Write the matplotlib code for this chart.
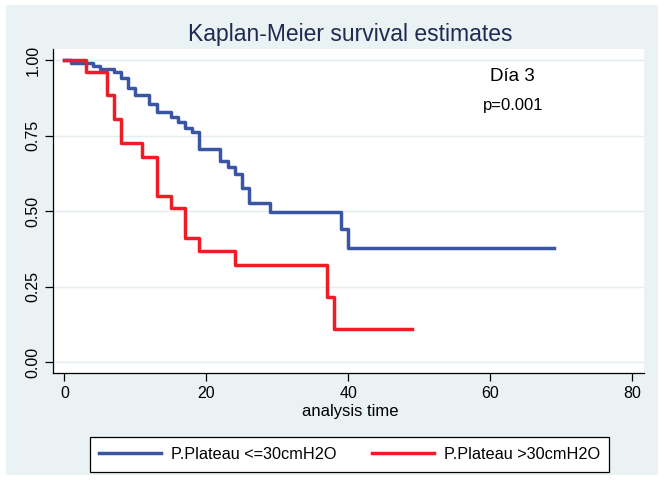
import numpy as np
import matplotlib as mlt
mlt.use('Agg')
from matplotlib import pyplot as plt
from matplotlib.patches import Rectangle

plt.rcParams['font.family'] = ['Liberation Sans', 'DejaVu Sans']

# Kaplan-Meier step curves (time, survival)
time_low = [0, 1, 4, 5, 7, 8, 9, 10, 12, 13, 15, 16, 17, 18, 19, 22, 23, 24, 25, 26, 29, 39, 40, 69]
surv_low = [1.0, 0.991, 0.981, 0.971, 0.96, 0.94, 0.908, 0.884, 0.855, 0.827, 0.812, 0.795, 0.777, 0.761,
            0.705, 0.665, 0.645, 0.624, 0.576, 0.527, 0.497, 0.441, 0.377, 0.377]

time_high = [0, 3, 6, 7, 8, 11, 13, 15, 17, 19, 24, 37, 38, 49]
surv_high = [1.0, 0.962, 0.885, 0.806, 0.727, 0.681, 0.551, 0.51, 0.413, 0.369, 0.321, 0.215, 0.109, 0.109]

label_low = "P.Plateau <=30cmH2O"
label_high = "P.Plateau >30cmH2O"

xticks = [0, 20, 40, 60, 80]
yticks = [0.0, 0.25, 0.5, 0.75, 1.0]

bg = '#EAF2F3'
blue = '#3A55A4'
red = '#EE1C25'

fig = plt.figure(figsize=(6.64, 4.8), dpi=100)
fig.patch.set_facecolor('white')
fig.patches.append(Rectangle((6/664, 5/480), 652/664, 470/480, transform=fig.transFigure,
                             facecolor=bg, edgecolor='none', zorder=-10))

ax = fig.add_axes([53/664, 1 - 373/480, 591/664, 324/480])
ax.set_facecolor('white')

ax.step(time_low, surv_low, where='post', color=blue, linewidth=2.5, label=label_low)
ax.step(time_high, surv_high, where='post', color=red, linewidth=2.5, label=label_high)

ax.set_xlim(-1.6, 81.7)
ax.set_ylim(-0.035, 1.037)
ax.set_xticks(xticks)
ax.set_yticks(yticks)
ax.set_yticklabels(['%.2f' % v for v in yticks], rotation=90, va='center')
ax.tick_params(axis='both', direction='out', length=6, width=0.9, labelsize=11.5, pad=3, color='black')
ax.yaxis.grid(True, color='#E4EEEF', linewidth=1.0)
ax.set_axisbelow(True)

for s in ['top', 'right']:
    ax.spines[s].set_visible(False)
for s in ['left', 'bottom']:
    ax.spines[s].set_linewidth(0.9)

ax.set_xlabel("analysis time", fontsize=12)
ax.xaxis.set_label_coords(0.5025, -0.095)

ax.text(0.777, 0.915, "Día 3", transform=ax.transAxes, ha='center', va='center', fontsize=13.5)
ax.text(0.778, 0.827, "p=0.001", transform=ax.transAxes, ha='center', va='center', fontsize=12)

fig.text(350/664, 1 - 35/480, "Kaplan-Meier survival estimates", ha='center', va='center',
         fontsize=16.5, color='#1E2A52')

leg = fig.legend(loc='center', bbox_to_anchor=(349.5/664, 1 - 454.5/480), ncol=2, fontsize=11.7,
                 handlelength=3.8, handletextpad=0.6, columnspacing=2.2, borderpad=0.6,
                 fancybox=False, framealpha=1, edgecolor='black', facecolor='white')
leg.get_frame().set_linewidth(0.9)

plt.savefig('out.png', dpi=100, facecolor=fig.get_facecolor())
